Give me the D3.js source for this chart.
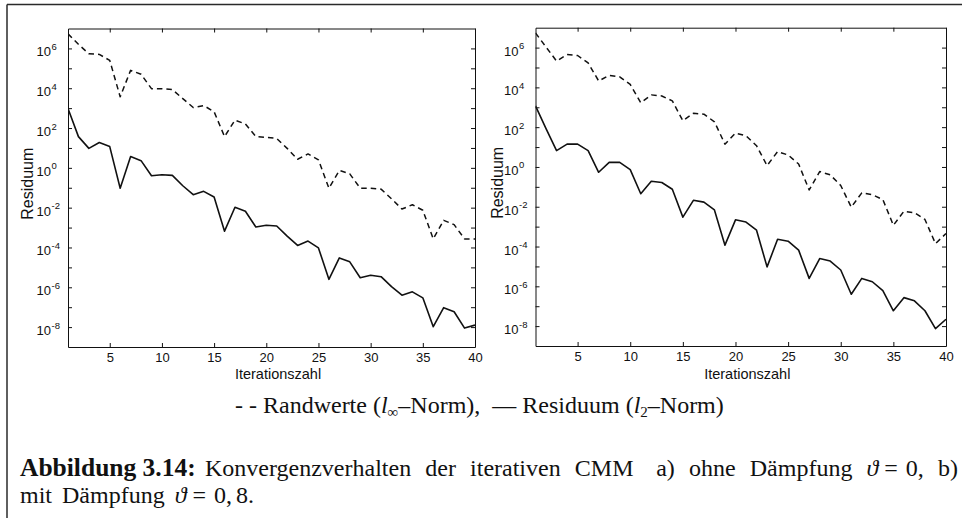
<!DOCTYPE html>
<html>
<head>
<meta charset="utf-8">
<script src="https://cdn.jsdelivr.net/npm/d3@7"></script>
<style>
  html, body { margin: 0; padding: 0; background: #fff; }
  svg { display: block; }
</style>
</head>
<body>
<svg id="fig" width="962" height="518"></svg>
<script>
// Iteration counter (x) and residual histories for both runs
const iterations = [1, 2, 3, 4, 5, 6, 7, 8, 9, 10, 11, 12, 13, 14, 15, 16, 17, 18, 19, 20,
                    21, 22, 23, 24, 25, 26, 27, 28, 29, 30, 31, 32, 33, 34, 35, 36, 37, 38, 39, 40];

// a) without damping
const randwerteA = [5.4e6, 1.6e6, 5.4e5, 5.0e5, 2.5e5, 3.7e3, 7.9e4, 5.0e4, 9.5e3, 9.5e3,
                    8.5e3, 3.0e3, 1.07e3, 1.35e3, 6.6e2, 37, 2.5e2, 1.6e2, 37, 34,
                    30, 9.5, 2.7, 5.0, 2.5, 0.095, 0.74, 0.5, 0.095, 0.095,
                    0.085, 0.028, 8.5e-3, 1.4e-2, 7.4e-3, 2.7e-4, 2.3e-3, 1.4e-3, 2.7e-4, 2.7e-4];
const residuumA = [950, 37, 9.5, 18.6, 11.7, 0.095, 3.7, 2.3, 0.4, 0.45,
                   0.42, 0.126, 0.045, 0.066, 0.034, 6.6e-4, 1.05e-2, 6.6e-3, 1.07e-3, 1.3e-3,
                   1.2e-3, 3.7e-4, 1.26e-4, 2.1e-4, 9.5e-5, 2.5e-6, 3.0e-5, 1.9e-5, 3.0e-6, 4.0e-6,
                   3.4e-6, 1.07e-6, 4.0e-7, 5.9e-7, 2.95e-7, 1.05e-8, 9.5e-8, 5.9e-8, 8.9e-9, 1.26e-8];

// b) with damping 0.8
const randwerteB = [5.4e6, 1.07e6, 2.1e5, 4.5e5, 4.0e5, 1.7e5, 2.1e4, 4.0e4, 3.4e4, 1.4e4,
                    1.7e3, 4.2e3, 3.7e3, 2.1e3, 2.1e2, 5.0e2, 4.5e2, 1.86e2, 14, 50,
                    37, 11.7, 1.17, 5.9, 4.0, 1.4, 0.07, 0.59, 0.4, 0.117,
                    9.5e-3, 0.05, 0.04, 0.023, 1.17e-3, 5.9e-3, 5.0e-3, 2.3e-3, 1.4e-4, 4.5e-4];
const residuumB = [1.17e3, 85, 6.6, 14, 14, 6.6, 0.54, 1.7, 1.7, 0.74,
                   0.045, 0.19, 0.166, 0.076, 3.0e-3, 2.1e-2, 1.7e-2, 6.9e-3, 1.17e-4, 2.2e-3,
                   1.7e-3, 6.6e-4, 9.5e-6, 2.3e-4, 1.86e-4, 6.6e-5, 2.5e-6, 2.5e-5, 1.86e-5, 6.6e-6,
                   4.0e-7, 2.5e-6, 1.7e-6, 6.0e-7, 5.9e-8, 2.7e-7, 1.86e-7, 5.9e-8, 7.4e-9, 2.2e-8];

// Axis ticks
const xTickValues = [5, 10, 15, 20, 25, 30, 35, 40];
const yLabelExponents = [6, 4, 2, 0, -2, -4, -6, -8];
const yTickExponents = [6, 5, 4, 3, 2, 1, 0, -1, -2, -3, -4, -5, -6, -7, -8];
const xDomain = [1, 40];
const yDomain = [1e-9, 1e7];

const SANS = "'Liberation Sans', Arial, Helvetica, sans-serif";
const SERIF = "'Liberation Serif', 'Times New Roman', Times, serif";

const svg = d3.select("#fig");

// page frame
svg.append("line").attr("x1", 7).attr("y1", 4.5).attr("x2", 962).attr("y2", 4.5)
  .attr("stroke", "#2a2a2a").attr("stroke-width", 1.5);
svg.append("line").attr("x1", 7).attr("y1", 4.5).attr("x2", 7).attr("y2", 518)
  .attr("stroke", "#2a2a2a").attr("stroke-width", 1.5);

const panels = [
  { dashed: randwerteA, solid: residuumA, left: 68, right: 475, top: 28.5, bottom: 347, ylabX: 33 },
  { dashed: randwerteB, solid: residuumB, left: 535.5, right: 946, top: 27.7, bottom: 346, ylabX: 503 }
];

panels.forEach(p => {
  const x = d3.scaleLinear().domain(xDomain).range([p.left, p.right]);
  const y = d3.scaleLog().domain(yDomain).range([p.bottom, p.top]);
  const g = svg.append("g");
  const decadeTicks = yTickExponents.map(e => Math.pow(10, e));

  const styleAxis = sel => {
    sel.select(".domain").attr("stroke", "#111").attr("stroke-width", 1);
    sel.selectAll(".tick line").attr("stroke", "#111").attr("stroke-width", 1);
  };

  // bottom axis with labels, inward ticks
  g.append("g").attr("transform", `translate(0,${p.bottom})`)
    .call(d3.axisBottom(x).tickValues(xTickValues).tickSizeInner(-4).tickSizeOuter(0).tickPadding(6))
    .call(styleAxis)
    .call(s => s.selectAll(".tick text").attr("font-family", SANS).attr("font-size", 13).attr("fill", "#111"));
  // top axis
  g.append("g").attr("transform", `translate(0,${p.top})`)
    .call(d3.axisTop(x).tickValues(xTickValues).tickSizeInner(-4).tickSizeOuter(0).tickFormat(""))
    .call(styleAxis);
  // left axis
  g.append("g").attr("transform", `translate(${p.left},0)`)
    .call(d3.axisLeft(y).tickValues(decadeTicks).tickSizeInner(-4).tickSizeOuter(0).tickFormat(""))
    .call(styleAxis);
  // right axis
  g.append("g").attr("transform", `translate(${p.right},0)`)
    .call(d3.axisRight(y).tickValues(decadeTicks).tickSizeInner(-4).tickSizeOuter(0).tickFormat(""))
    .call(styleAxis);

  // y tick labels: base "10" with raised exponent
  const lab = g.append("g").attr("font-family", SANS).attr("fill", "#111");
  yLabelExponents.forEach(e => {
    const ty = y(Math.pow(10, e));
    const bx = p.left - 17;
    lab.append("text").attr("x", bx).attr("y", ty + 8).attr("text-anchor", "end")
      .attr("font-size", 13).text("10");
    lab.append("text").attr("x", bx + 0.5).attr("y", ty + 1.5)
      .attr("font-size", 9.5).text(String(e));
  });

  // axis titles
  g.append("text").attr("transform", `translate(${p.ylabX},${(p.top + p.bottom) / 2 - 4}) rotate(-90)`)
    .attr("text-anchor", "middle").attr("font-family", SANS).attr("font-size", 16).attr("fill", "#111")
    .text("Residuum");
  g.append("text").attr("x", (p.left + p.right) / 2 + 6.5).attr("y", 379)
    .attr("text-anchor", "middle").attr("font-family", SANS).attr("font-size", 14.5).attr("fill", "#111")
    .text("Iterationszahl");

  // series
  const line = d3.line().x((d, i) => x(iterations[i])).y(d => y(d));
  const clipId = "clip" + Math.round(p.left);
  svg.append("clipPath").attr("id", clipId).append("rect")
    .attr("x", p.left).attr("y", p.top).attr("width", p.right - p.left).attr("height", p.bottom - p.top);
  const lg = g.append("g").attr("clip-path", `url(#${clipId})`);
  lg.append("path").datum(p.dashed).attr("d", line).attr("fill", "none")
    .attr("stroke", "#111").attr("stroke-width", 1.5).attr("stroke-dasharray", "5.5,4")
    .attr("stroke-linejoin", "round");
  lg.append("path").datum(p.solid).attr("d", line).attr("fill", "none")
    .attr("stroke", "#111").attr("stroke-width", 1.6).attr("stroke-linejoin", "round");
});

// legend line under the panels
const legend = svg.append("text").attr("x", 235).attr("y", 413)
  .attr("font-family", SERIF).attr("font-size", 24).attr("fill", "#111");
legend.append("tspan").text("- - Randwerte (");
legend.append("tspan").attr("font-style", "italic").text("l");
legend.append("tspan").attr("font-size", 15).attr("dy", 4).text("\u221E");
legend.append("tspan").attr("dy", -4).text("\u2013Norm),\u2002\u2014 Residuum (");
legend.append("tspan").attr("font-style", "italic").text("l");
legend.append("tspan").attr("font-size", 15).attr("dy", 4).text("2");
legend.append("tspan").attr("dy", -4).text("\u2013Norm)");

// caption: words placed individually so the first line can be justified
function setRun(words, x0, y, opts) {
  const nodes = words.map(w => svg.append("text")
    .attr("y", y).attr("font-family", SERIF).attr("fill", "#111")
    .attr("font-size", w.size || 24)
    .attr("font-weight", w.bold ? "bold" : null)
    .attr("font-style", w.italic ? "italic" : null)
    .text(w.t));
  const widths = nodes.map(n => n.node().getComputedTextLength());
  let stretch = opts.gap || 0;
  if (opts.right != null) {
    const total = d3.sum(widths);
    const fixed = d3.sum(words.slice(1), w => w.fixed != null ? w.fixed : 0);
    const weights = d3.sum(words.slice(1), w => w.fixed != null ? 0 : (w.weight || 1));
    stretch = (opts.right - x0 - total - fixed) / weights;
  }
  let cx = x0;
  nodes.forEach((n, i) => {
    if (i > 0) {
      const w = words[i];
      cx += w.fixed != null ? w.fixed : stretch * (w.weight || 1);
    }
    n.attr("x", cx);
    cx += widths[i];
  });
}

setRun([{ t: "Abbildung 3.14:", bold: true, size: 25.5 }], 20, 476, {});
setRun([
  { t: "Konvergenzverhalten" }, { t: "der" }, { t: "iterativen" }, { t: "CMM" },
  { t: "a)", weight: 1.6 }, { t: "ohne" }, { t: "D\u00E4mpfung" },
  { t: "\u03D1", italic: true }, { t: "=", fixed: 6 }, { t: "0,", fixed: 8 }, { t: "b)" }
], 205, 476, { right: 958 });
setRun([
  { t: "mit" }, { t: "D\u00E4mpfung" }, { t: "\u03D1", italic: true },
  { t: "=", fixed: 6 }, { t: "0,", fixed: 8 }, { t: "8.", fixed: 4 }
], 20, 503, { gap: 10 });
</script>
</body>
</html>
